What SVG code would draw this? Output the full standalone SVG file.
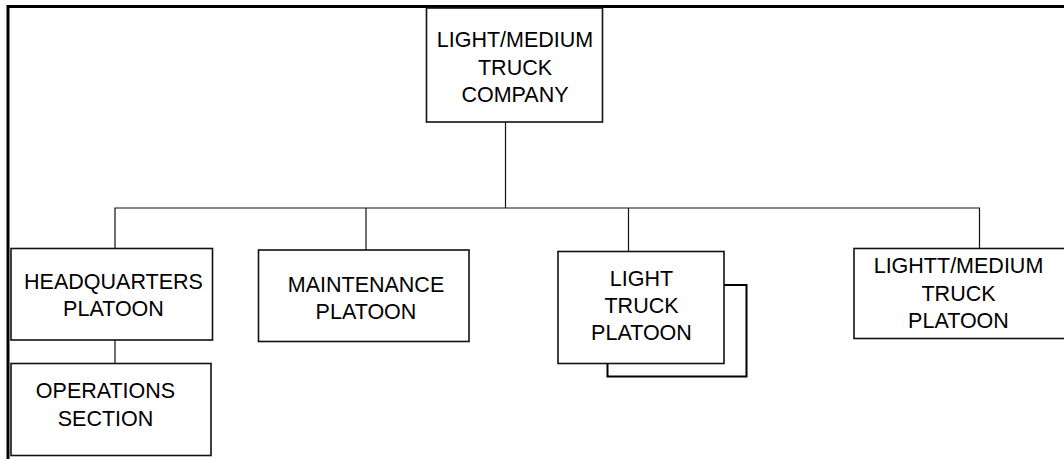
<svg xmlns="http://www.w3.org/2000/svg" width="1064" height="459" viewBox="0 0 1064 459">
<style>
.box{fill:#fff;stroke:#111;stroke-width:1.6}
.frame{fill:none;stroke:#000;stroke-width:3}
.conn{fill:none;stroke:#111;stroke-width:1.2}
.shadow{fill:none;stroke:#000;stroke-width:2}
text{font-family:"Liberation Sans",Arial,sans-serif;font-size:21.5px;fill:#000;text-anchor:middle}
</style>
<rect width="1064" height="459" fill="#fff"/>
<g id="frame">
<path class="frame" d="M8 459 V6.5 H1064"/>
</g>
<g id="connectors">
<path class="conn" d="M505.5 122 V208"/>
<path class="conn" d="M115 248 V208 H979.5 V248"/>
<path class="conn" d="M366 208 V250"/>
<path class="conn" d="M628.5 208 V252"/>
<path class="conn" d="M115 340 V363"/>
</g>
<g id="company">
<rect class="box" x="426.5" y="8" width="176" height="114"/>
<text x="515" y="47">LIGHT/MEDIUM</text>
<text x="515" y="75">TRUCK</text>
<text x="515" y="102">COMPANY</text>
</g>
<g id="hq">
<rect class="box" x="11" y="248.5" width="201.5" height="91.5"/>
<text x="113.5" y="289">HEADQUARTERS</text>
<text x="113.5" y="316">PLATOON</text>
</g>
<g id="ops">
<rect class="box" x="11" y="363.5" width="200" height="92"/>
<text x="105.5" y="398">OPERATIONS</text>
<text x="105.5" y="426">SECTION</text>
</g>
<g id="maint">
<rect class="box" x="258.5" y="250" width="210.5" height="91.5"/>
<text x="366" y="292">MAINTENANCE</text>
<text x="366" y="319">PLATOON</text>
</g>
<g id="light">
<path class="shadow" d="M724 285 H746.5 V376.5 H607.5 V363.5"/>
<rect class="box" x="558" y="251.5" width="166" height="112"/>
<text x="641.5" y="286">LIGHT</text>
<text x="641.5" y="313">TRUCK</text>
<text x="641.5" y="340">PLATOON</text>
</g>
<g id="lightmedium">
<rect class="box" x="854" y="248.5" width="214" height="90"/>
<text x="958.5" y="273">LIGHTT/MEDIUM</text>
<text x="958.5" y="301">TRUCK</text>
<text x="958.5" y="328">PLATOON</text>
</g>
</svg>
